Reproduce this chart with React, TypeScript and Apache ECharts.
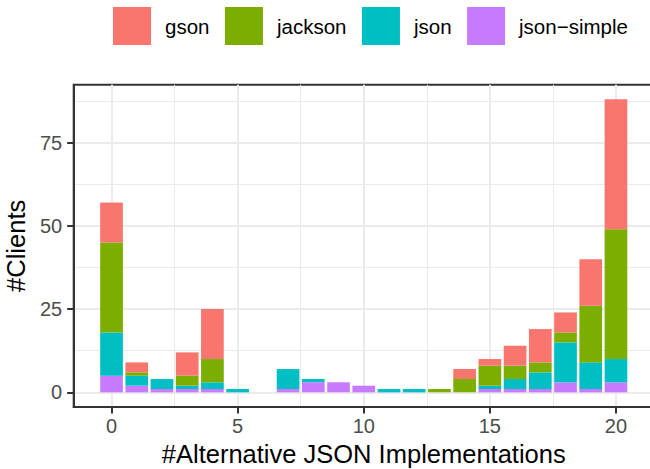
import React, { useEffect, useRef } from "react";
import * as echarts from "echarts";

const xValues = [0, 1, 2, 3, 4, 5, 6, 7, 8, 9, 10, 11, 12, 13, 14, 15, 16, 17, 18, 19, 20];
const gson = [12, 3, 0, 7, 15, 0, 0, 0, 0, 0, 0, 0, 0, 0, 3, 2, 6, 10, 6, 14, 39];
const jackson = [27, 1, 0, 3, 7, 0, 0, 0, 0, 0, 0, 0, 0, 1, 4, 6, 4, 3, 3, 17, 39];
const json = [13, 3, 3, 1, 2, 1, 0, 6, 1, 0, 0, 1, 1, 0, 0, 1, 3, 5, 12, 8, 7];
const jsonSimple = [5, 2, 1, 1, 1, 0, 0, 1, 3, 3, 2, 0, 0, 0, 0, 1, 1, 1, 3, 1, 3];

const seriesNames = ["gson", "jackson", "json", "json\u2212simple"];
const seriesColors = ["#F8766D", "#7CAE00", "#00BFC4", "#C77CFF"];

const xTicks = [0, 5, 10, 15, 20];
const xMinor = [2.5, 7.5, 12.5, 17.5];
const yTicks = [0, 25, 50, 75];
const yMinor = [12.5, 37.5, 62.5, 87.5];

const xTitle = "#Alternative JSON Implementations";
const yTitle = "#Clients";

const FONT = "Liberation Sans, Arial, Helvetica, sans-serif";

export default function App() {
  const ref = useRef<HTMLDivElement>(null);
  useEffect(() => {
    if (!ref.current) return;
    const chart = echarts.init(ref.current, null, { renderer: "svg" });
    const values = [gson, jackson, json, jsonSimple];
    // band slots covering the padded x range (one empty slot on each side)
    const categories = [String(xValues[0] - 1), ...xValues.map(String), String(xValues[xValues.length - 1] + 1)];
    // stack bottom-up: json-simple, json, jackson, gson
    const order = [3, 2, 1, 0];
    const series = order.map((i) => ({
      name: seriesNames[i],
      type: "bar",
      stack: "total",
      xAxisIndex: 0,
      yAxisIndex: 0,
      barWidth: "90%",
      itemStyle: { color: seriesColors[i] },
      emphasis: { disabled: true },
      data: xValues.map((x, k) => [String(x), values[i][k]]),
      z: 3,
    }));
    const xMin = -1.5;
    const xMax = 21.5;
    const yMin = -4.4;
    const yMax = 92.4;
    const axisLineStyle = { show: true, onZero: false, lineStyle: { color: "#333333", width: 2 } };
    chart.setOption({
      animation: false,
      textStyle: { fontFamily: FONT },
      grid: {
        left: 73.7,
        top: 84.7,
        right: -3.8,
        bottom: 62,
        outerBoundsMode: "none",
        containLabel: false,
        show: true,
        borderColor: "#333333",
        borderWidth: 2,
        backgroundColor: "#FFFFFF",
      },
      legend: {
        data: seriesNames,
        left: 113,
        top: 7,
        padding: 0,
        itemWidth: 38,
        itemHeight: 38,
        itemGap: 15.5,
        icon: "rect",
        selectedMode: false,
        textStyle: { fontSize: 20.5, color: "#000000", fontFamily: FONT, padding: [0, 0, 0, 9] },
      },
      xAxis: [
        {
          type: "category",
          data: categories,
          boundaryGap: true,
          position: "top",
          show: false,
        },
        {
          type: "value",
          min: xMin,
          max: xMax,
          position: "bottom",
          name: xTitle,
          nameLocation: "middle",
          nameGap: 34,
          nameTextStyle: { fontSize: 25.5, color: "#000000", fontFamily: FONT },
          axisLine: axisLineStyle,
          axisTick: { show: true, inside: false, length: 6.5, customValues: xTicks, lineStyle: { color: "#333333", width: 2 } },
          axisLabel: { customValues: xTicks, fontSize: 20, color: "#4D4D4D", margin: 9, fontFamily: FONT },
          splitLine: { show: true, lineStyle: { color: "#EBEBEB", width: 2 } },
        },
        {
          type: "value",
          min: xMin,
          max: xMax,
          position: "top",
          axisLine: { show: false, onZero: false },
          axisTick: { show: false, customValues: xMinor },
          axisLabel: { show: false, customValues: xMinor },
          splitLine: { show: true, lineStyle: { color: "#EBEBEB", width: 1 } },
        },
      ],
      yAxis: [
        {
          type: "value",
          min: yMin,
          max: yMax,
          position: "left",
          name: yTitle,
          nameLocation: "middle",
          nameGap: 43,
          nameTextStyle: { fontSize: 25.5, color: "#000000", fontFamily: FONT },
          axisLine: axisLineStyle,
          axisTick: { show: true, inside: false, length: 6.5, customValues: yTicks, lineStyle: { color: "#333333", width: 2 } },
          axisLabel: { customValues: yTicks, fontSize: 20, color: "#4D4D4D", margin: 11.5, fontFamily: FONT },
          splitLine: { show: true, lineStyle: { color: "#EBEBEB", width: 2 } },
        },
        {
          type: "value",
          min: yMin,
          max: yMax,
          position: "right",
          axisLine: { show: false, onZero: false },
          axisTick: { show: false, customValues: yMinor },
          axisLabel: { show: false, customValues: yMinor },
          splitLine: { show: true, lineStyle: { color: "#EBEBEB", width: 1 } },
        },
      ],
      series,
    });
    return () => chart.dispose();
  }, []);
  return (
    <div
      ref={ref}
      style={{ position: "fixed", left: 0, top: 0, width: 650, height: 469, background: "#FFFFFF" }}
    />
  );
}
